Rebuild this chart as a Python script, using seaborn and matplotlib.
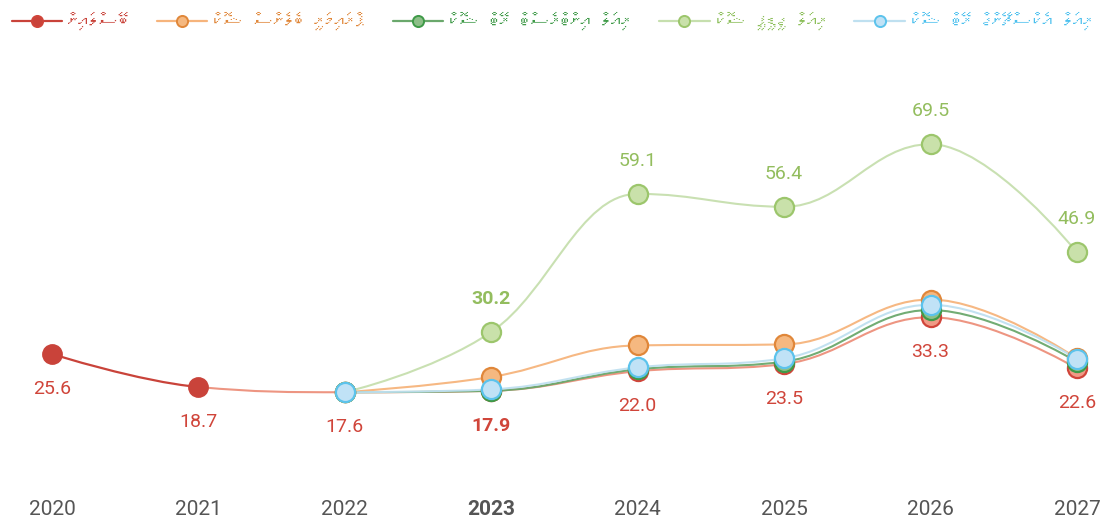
import numpy as np
import matplotlib
matplotlib.use("Agg")
import matplotlib.pyplot as plt
from matplotlib import font_manager, ft2font
from matplotlib.path import Path
from matplotlib.patches import PathPatch
from matplotlib.lines import Line2D
import seaborn as sns

# data
years = [2020, 2021, 2022, 2023, 2024, 2025, 2026, 2027]
year_labels = ["2020", "2021", "2022", "2023", "2024", "2025", "2026", "2027"]

baseline = [25.6, 18.7, 17.6, 17.9, 22.0, 23.5, 33.3, 22.6]
primary_balance = [None, None, 17.6, 20.8, 27.4, 27.6, 37.0, 24.7]
interest_rate = [None, None, 17.6, 17.9, 22.4, 24.0, 34.8, 24.0]
real_gdp = [None, None, 17.6, 30.2, 59.1, 56.4, 69.5, 46.9]
exchange_rate = [None, None, 17.6, 18.2, 22.8, 24.7, 35.9, 24.6]

names = [
    "ބޭސްލައިން",
    "ޕްރައިމަރީ ބެލެންސް ޝޮކް",
    "ރިއަލް އިންޓްރެސްޓް ރޭޓް ޝޮކް",
    "ރިއަލް ޖީޑީޕީ ޝޮކް",
    "ރިއަލް އެކްސްޗޭންޖް ރޭޓް ޝޮކް",
]

# look for a font that has Thaana glyphs
thaana = None
for f in font_manager.fontManager.ttflist:
    try:
        cmap = ft2font.FT2Font(f.fname).get_charmap()
    except Exception:
        continue
    if 0x0780 in cmap and 0x07A6 in cmap:
        thaana = f.name
        break

sns.set_theme(style="white")
num_font = ["Liberation Sans Narrow", "Roboto", "DejaVu Sans"]
plt.rcParams["font.family"] = num_font
legend_font = [thaana, "DejaVu Sans"] if thaana else ["DejaVu Sans"]


def visual(s):
    # right-to-left script, no shaping in matplotlib: draw in reversed order
    # (vowel marks then land on the letter they belong to)
    return s[::-1]


def spline(xs, ys, smoothing=1.5):
    n = len(xs)
    den = smoothing + 1
    lc = [(xs[i], ys[i]) for i in range(n)]
    rc = [(xs[i], ys[i]) for i in range(n)]
    for i in range(1, n - 1):
        px, py = xs[i], ys[i]
        lx, ly = xs[i - 1], ys[i - 1]
        nx, ny = xs[i + 1], ys[i + 1]
        lcx = (smoothing * px + lx) / den
        lcy = (smoothing * py + ly) / den
        rcx = (smoothing * px + nx) / den
        rcy = (smoothing * py + ny) / den
        corr = (rcy - lcy) * (rcx - px) / (rcx - lcx) + py - rcy
        lcy += corr
        rcy += corr
        if lcy > ly and lcy > py:
            lcy = max(ly, py)
            rcy = 2 * py - lcy
        elif lcy < ly and lcy < py:
            lcy = min(ly, py)
            rcy = 2 * py - lcy
        if rcy > ny and rcy > py:
            rcy = max(ny, py)
            lcy = 2 * py - rcy
        elif rcy < ny and rcy < py:
            rcy = min(ny, py)
            lcy = 2 * py - rcy
        lc[i] = (lcx, lcy)
        rc[i] = (rcx, rcy)
    segs = []
    for i in range(n - 1):
        segs.append([(xs[i], ys[i]), rc[i], lc[i + 1], (xs[i + 1], ys[i + 1])])
    return segs


def draw_segments(ax, segs, color, lw, alpha=1.0, z=2):
    for s in segs:
        p = Path(s, [Path.MOVETO, Path.CURVE4, Path.CURVE4, Path.CURVE4])
        ax.add_patch(PathPatch(p, facecolor="none", edgecolor=color, lw=lw,
                               alpha=alpha, zorder=z, capstyle="round"))


fig = plt.figure(figsize=(11.03, 5.2), dpi=100)
ax = fig.add_axes([0, 30 / 520, 1, 450 / 520])
ax.set_xlim(2019.645, 2027.178)
ax.set_ylim(-2.85, 91.29)

series = [
    (baseline, "#f09a86", "#d0453a", "#ec8a74"),
    (primary_balance, "#f5b880", "#e0873a", "#f6b47c"),
    (interest_rate, "#8dbf88", "#3f9a48", "#6aa86c"),
    (real_gdp, "#c9e1aa", "#9cc66c", "#c6dfae"),
    (exchange_rate, "#c0e2f6", "#5cc3ec", "#bfe0f0"),
]

red = "#d0453a"
for k, (vals, fill, edge, line) in enumerate(series):
    xs = [y for y, v in zip(years, vals) if v is not None]
    ys = [v for v in vals if v is not None]
    segs = spline(xs, ys)
    z = 2 + k
    if k == 0:
        draw_segments(ax, segs[:1], "#c9433a", 1.6, z=z)
        draw_segments(ax, segs[1:], line, 1.5, alpha=0.9, z=z)
        sns.scatterplot(x=xs[:2], y=ys[:2], ax=ax, s=190, color="#c9433a",
                        edgecolor="#c9433a", linewidth=1.2, zorder=10 + k)
        sns.scatterplot(x=xs[2:], y=ys[2:], ax=ax, s=190, color=fill,
                        edgecolor=edge, linewidth=1.6, zorder=10 + k)
    else:
        draw_segments(ax, segs, line, 1.5, alpha=0.95, z=z)
        sns.scatterplot(x=xs, y=ys, ax=ax, s=190, color=fill,
                        edgecolor=edge, linewidth=1.6, zorder=10 + k)

# value labels
for y, v in zip(years, baseline):
    ax.annotate(f"{v:.1f}", (y, v), xytext=(0, -35), textcoords="offset pixels",
                ha="center", va="center", color=red, fontsize=14,
                fontweight="bold" if y == 2023 else "normal", zorder=20)
for y, v in zip(years, real_gdp):
    if v is None or y == 2022:
        continue
    ax.annotate(f"{v:.1f}", (y, v), xytext=(0, 33), textcoords="offset pixels",
                ha="center", va="center", color="#93bd5e", fontsize=14,
                fontweight="bold" if y == 2023 else "normal", zorder=20)

ax.set_xticks(years)
ax.set_xticklabels(year_labels, fontsize=15, color="#555555")
for t in ax.get_xticklabels():
    if t.get_text() == "2023":
        t.set_fontweight("bold")
ax.tick_params(axis="x", length=0, pad=7)
ax.set_yticks([])
sns.despine(ax=ax, left=True, bottom=True)
ax.grid(False)

# legend
handles = []
for vals, fill, edge, line in series:
    lc = "#c9433a" if vals is baseline else line
    fc = "#c9433a" if vals is baseline else fill
    handles.append(Line2D([], [], color=lc, lw=1.6, marker="o", markersize=8,
                          markerfacecolor=fc, markeredgecolor=edge,
                          markeredgewidth=1.4))
text_colors = ["#c9433a", "#e0873a", "#3f9a48", "#8cbf5a", "#4cc0ee"]
leg = fig.legend(handles, [visual(n) for n in names], loc="upper left",
                 bbox_to_anchor=(-0.006, 1.012), ncol=5, frameon=False,
                 handlelength=2.5, handletextpad=0.3, columnspacing=1.35,
                 prop={"family": legend_font, "size": 14.6})
for t, c in zip(leg.get_texts(), text_colors):
    t.set_color(c)

fig.savefig("out.png", dpi=100)
